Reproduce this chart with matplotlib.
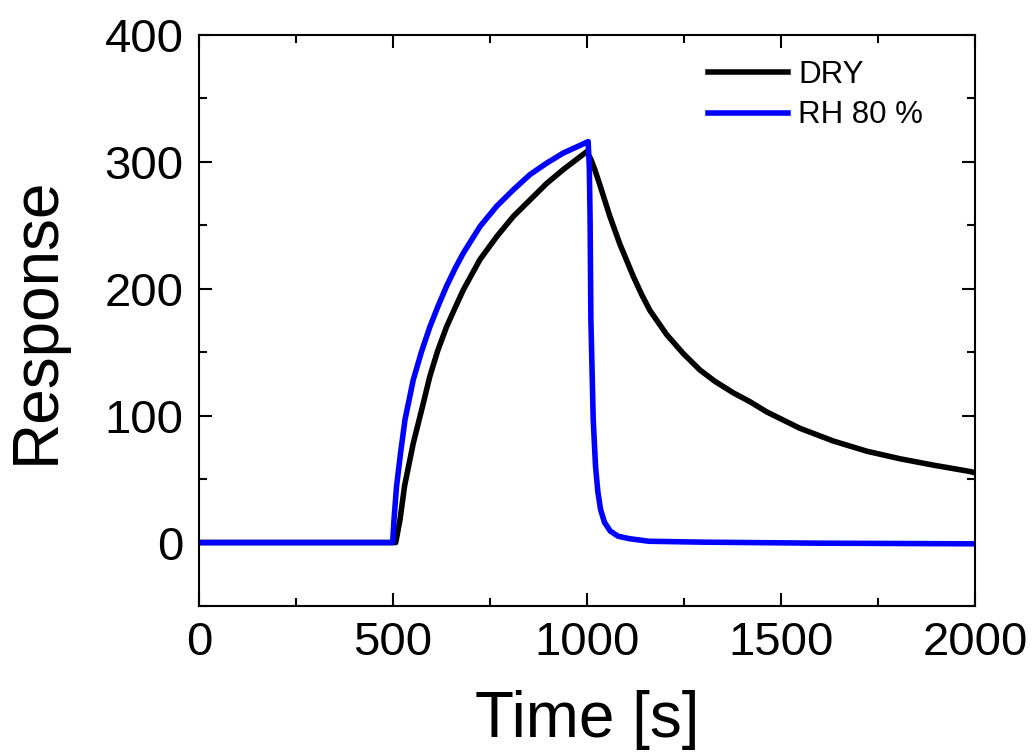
import matplotlib
matplotlib.use("Agg")
import matplotlib.pyplot as plt
from matplotlib.ticker import MultipleLocator

plt.rcParams["font.family"] = ["Liberation Sans", "DejaVu Sans"]

# values
dry_t = [0, 500, 507, 518, 530, 552, 575, 595, 615, 638, 660, 681, 724, 767,
         810, 853, 896, 939, 982, 999, 1010, 1020, 1033, 1059, 1085, 1119,
         1140, 1162, 1205, 1248, 1291, 1330, 1377, 1420, 1463, 1549, 1635,
         1721, 1807, 1893, 1987, 2000]
dry_r = [0, 0, 0, 18, 45, 78, 106, 131, 151, 170, 185, 199, 223, 241,
         257, 270, 283, 294, 304, 308, 302, 294, 282, 257, 235, 210,
         196, 183, 164, 149, 136, 127, 118, 111, 103, 90, 80,
         72, 66, 61, 56, 55]

rh_t = [0, 499, 503, 509, 520, 531, 552, 573, 595, 617, 638, 660, 681, 724,
        767, 810, 853, 896, 939, 982, 1003, 1006, 1008, 1010, 1016, 1022,
        1028, 1035, 1045, 1060, 1080, 1110, 1160, 1300, 1600, 2000]
rh_r = [0, 0, 20, 44, 72, 97, 128, 150, 170, 187, 202, 216, 228, 249,
        265, 278, 290, 299, 307, 313, 316, 295, 254, 176, 97, 60,
        40, 26, 16, 9, 5, 3, 1, 0.3, -0.5, -1]

fig = plt.figure(figsize=(10.35, 7.54), dpi=100)
ax = fig.add_axes([0.1923, 0.1963, 0.7497, 0.7573])

ax.plot(dry_t, dry_r, color="black", lw=4, label="DRY")
ax.plot(rh_t, rh_r, color="#0000ff", lw=4, label="RH 80 %")

ax.set_xlim(0, 2000)
ax.set_ylim(-50, 400)
ax.xaxis.set_major_locator(MultipleLocator(500))
ax.xaxis.set_minor_locator(MultipleLocator(250))
ax.yaxis.set_major_locator(MultipleLocator(100))
ax.yaxis.set_minor_locator(MultipleLocator(50))
ax.tick_params(which="both", direction="in", top=True, right=True,
               width=1.5, labelsize=34, pad=11)
ax.tick_params(which="major", length=9.5)
ax.tick_params(which="minor", length=6)
for s in ax.spines.values():
    s.set_linewidth(1.5)

ax.set_xlabel("Time [s]", fontsize=46, labelpad=18)
ax.set_ylabel("Response", fontsize=46, labelpad=27)

ax.legend(loc="upper left", bbox_to_anchor=(0.656, 0.957), frameon=False,
          fontsize=22.5, handlelength=2.55, handletextpad=0.33,
          labelspacing=0.35, borderpad=0, borderaxespad=0)

fig.savefig("out.png", dpi=100)
